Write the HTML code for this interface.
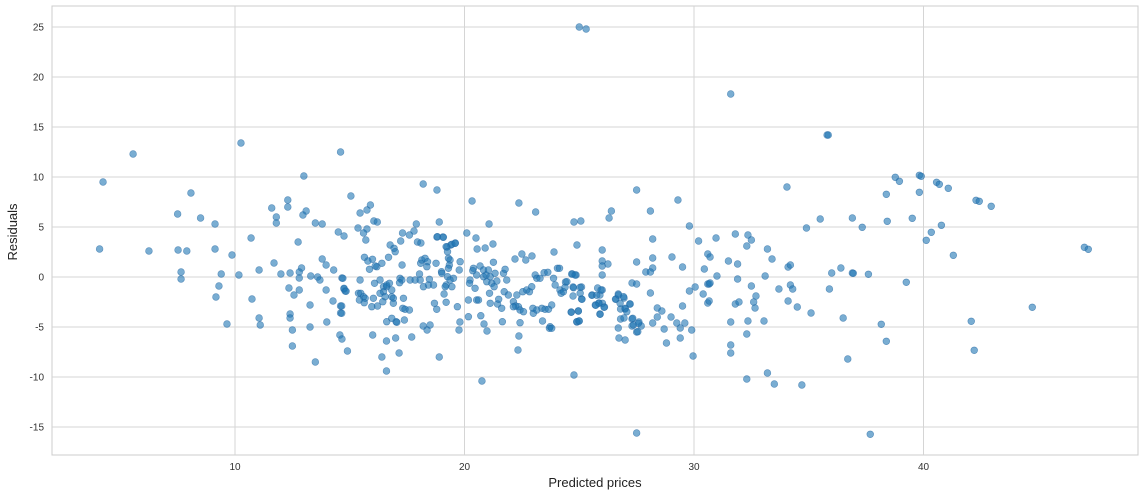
<!DOCTYPE html>
<html><head><meta charset="utf-8"><style>
html,body{margin:0;padding:0;background:#fff;}
svg{display:block;font-family:"Liberation Sans",sans-serif;}
</style></head><body>
<svg id="chart" width="1144" height="496">
<rect x="52" y="6" width="1086" height="449" fill="#fff" stroke="#cccccc" stroke-width="1"/>
<g id="grid"></g>
<g id="ticks"></g>
<g id="pts"></g>
<text x="595" y="487" text-anchor="middle" font-size="13" fill="#222">Predicted prices</text>
<text x="17" y="232" text-anchor="middle" font-size="13" fill="#222" transform="rotate(-90 17 232)">Residuals</text>
</svg>
<script>
const xTicks=[10,20,30,40];
const yTicks=[-15,-10,-5,0,5,10,15,20,25];
const predicted=[4.25,4.1,5.56,6.25,7.5,7.52,7.65,7.65,7.9,8.08,8.5,9.13,9.13,9.17,9.3,9.4,9.65,9.87,10.26,10.17,10.7,10.74,11.05,11.05,11.1,11.7,11.6,11.8,11.8,12.3,12.3,13.0,13.1,12.96,13.5,13.8,14.6,15.05,14.5,14.75,12.75,13.8,13.97,14.3,12.9,12.8,12.8,12.0,12.4,13.3,13.6,13.7,14.66,14.75,14.8,13.97,12.35,12.8,12.57,14.27,14.6,14.6,13.27,12.4,12.4,12.5,13.27,14.0,14.57,14.66,14.9,12.5,13.5,
18.2,18.8,15.45,15.75,15.9,16.05,16.2,15.36,15.75,15.6,15.7,17.9,18.9,17.3,17.8,17.6,17.95,18.1,18.8,19.06,19.6,19.4,19.24,20.1,20.5,20.33,21.07,20.55,20.9,21.24,22.37,23.1,22.5,22.2,22.67,22.94,23.9,24.77,25.07,24.9,26.3,26.4,26.0,27.5,27.5,
16.4,16.6,17.15,16.0,16.6,17.0,17.7,18.2,18.37,18.5,18.9,19.76,19.8,20.76,20.85,20.98,22.37,22.33,24.77,26.7,26.73,27.0,27.5,
29.3,28.1,29.8,28.2,26.0,26.0,26.25,26.0,28.2,28.2,27.9,28.1,29.04,29.5,34.05,30.2,30.96,30.6,30.7,30.45,31.0,31.8,32.35,32.5,32.3,31.5,31.9,33.2,33.4,33.1,34.1,34.2,34.9,35.5,36.9,36.4,36.0,36.9,35.9,36.5,36.7,34.7,33.5,32.3,33.2,31.6,31.6,32.3,31.6,32.35,33.05,35.1,34.5,34.1,32.66,32.6,32.7,32.5,31.8,31.96,31.9,34.2,34.3,33.7,30.6,30.66,30.7,29.8,30.05,30.4,30.6,30.66,29.5,29.9,29.96,29.4,29.4,29.6,29.25,29.0,28.7,28.8,28.2,28.4,28.4,28.6,28.1,27.5,27.3,27.3,27.6,27.7,26.8,26.95,27.2,27.0,26.8,26.95,26.7,26.6,27.3,25.7,25.9,26.1,25.86,25.56,25.8,26.0,25.9,24.65,24.96,24.9,25.0,24.16,24.4,24.73,25.1,24.73,25.1,24.7,24.86,
14.70,14.75,14.84,14.65,14.65,15.45,15.38,15.48,15.6,15.67,15.42,15.63,15.96,16.21,16.03,16.08,16.18,16.11,16.4,15.86,15.99,15.64,15.79,16.69,16.76,16.93,16.98,17.22,17.28,17.19,17.27,17.17,17.34,17.31,17.41,17.6,17.38,17.02,17.05,16.61,16.83,16.32,16.47,16.47,16.61,16.83,16.83,16.9,16.9,16.54,16.61,16.73,16.44,16.32,17.63,17.85,18.07,18.21,18.43,18.65,18.47,18.04,18.09,18.14,18.28,18.39,18.36,18.76,19.0,19.01,18.82,19.08,19.2,19.26,19.45,19.59,19.3,19.37,19.34,19.3,19.26,19.52,19.37,19.2,19.16,19.45,19.11,19.2,18.69,18.79,19.81,19.77,19.69,20.17,20.24,20.22,20.39,20.36,20.53,20.46,20.53,20.68,20.83,20.83,20.94,21.04,21.12,21.19,21.29,21.33,21.26,21.41,20.97,21.09,21.12,21.44,21.49,21.62,21.7,21.77,21.84,21.73,21.91,22.13,22.23,22.35,22.28,22.54,22.71,22.83,22.93,23.08,23.15,23.29,23.47,23.63,23.88,23.95,24.05,24.14,24.21,24.31,24.38,24.46,24.67,24.82,24.75,25.04,25.04,25.12,24.96,24.65,24.89,24.99,25.55,25.76,25.95,26.01,25.91,25.85,25.72,26.08,26.58,26.71,26.78,26.93,27.0,27.07,27.22,27.33,27.36,27.55,27.58,22.42,22.57,22.98,23.0,23.37,23.51,23.66,23.8,23.4,23.73,23.7,23.8,23.15,22.13,21.65,20.71,20.61,20.17,22.42,
37.33,36.94,37.6,38.38,38.42,38.77,38.95,39.51,39.82,39.9,39.82,39.25,40.57,40.69,41.08,40.78,40.34,40.12,41.3,42.29,42.43,42.95,44.74,42.08,42.21,47.01,47.18,38.16,38.38,37.68,
25.0,25.3,31.6,35.8,35.85,27.5];
const residuals=[9.5,2.8,12.3,2.6,6.3,2.7,0.5,-0.2,2.6,8.4,5.9,5.3,2.8,-2.0,-0.9,0.3,-4.7,2.2,13.4,0.2,3.9,-2.2,0.7,-4.1,-4.8,1.4,6.9,6.0,5.4,7.7,7.0,10.1,6.6,6.2,5.4,5.3,12.5,8.1,4.5,4.1,3.5,1.8,1.2,0.7,0.9,0.5,-0.1,0.3,0.4,0.1,0,-0.3,-0.1,-1.2,-1.4,-1.3,-1.1,-1.3,-1.8,-2.4,-2.9,-3.6,-2.8,-3.7,-4.1,-5.3,-5.0,-4.5,-5.8,-6.2,-7.4,-6.9,-8.5,
9.3,8.7,6.4,6.7,7.2,5.6,5.5,4.9,4.8,4.4,3.7,5.3,5.5,4.4,4.6,4.2,3.5,3.4,4.0,4.0,3.4,3.2,3.0,4.4,3.9,7.6,5.3,2.8,2.9,3.3,7.4,6.5,2.3,1.8,1.7,2.1,2.5,5.5,5.6,3.2,5.9,6.6,2.7,8.7,1.5,
-8.0,-9.4,-7.6,-5.8,-6.4,-6.1,-6.0,-4.9,-5.3,-4.8,-8.0,-5.3,-4.5,-10.4,-4.7,-5.4,-5.9,-7.3,-9.8,-5.1,-6.1,-6.3,-5.5,
7.7,6.6,5.1,3.8,1.6,1.1,1.3,0.2,1.9,0.9,0.5,0.5,2.0,1.0,9.0,3.6,3.9,2.3,2.0,0.8,0.1,4.3,4.2,3.7,3.1,1.6,1.3,2.8,1.8,0.1,1.0,1.2,4.9,5.8,5.9,0.9,0.4,0.4,-1.2,-4.1,-8.2,-10.8,-10.7,-10.2,-9.6,-7.6,-6.8,-5.7,-4.5,-4.4,-4.4,-3.6,-3.0,-2.4,-3.1,-2.5,-1.9,-0.9,-2.7,-2.5,-0.2,-0.8,-1.2,-1.2,-0.7,-0.7,-0.6,-1.4,-1.0,-1.7,-2.6,-2.4,-2.9,-5.3,-7.9,-6.1,-5.1,-4.6,-4.6,-4.0,-5.2,-6.6,-4.6,-3.1,-4.0,-3.4,-1.6,-15.6,-4.9,-4.2,-4.5,-4.9,-4.2,-4.1,-2.7,-3.2,-3.2,-2.1,-1.7,-2.2,-0.6,-2.8,-3.7,-3.0,-2.6,-1.8,-1.1,-1.3,-1.8,-3.5,-3.4,-4.5,-4.4,-1.3,-0.5,-1.0,-1.0,-1.9,-2.2,0.3,0.2,
-0.13,-1.13,-1.43,-2.9,-3.63,-0.3,-1.63,-1.63,-1.97,-2.13,-2.3,-2.57,-2.97,-2.9,-2.13,-0.63,1.03,1.1,1.37,0.77,1.77,1.97,1.6,1.97,3.2,2.87,2.53,3.6,1.2,-0.13,-0.3,-0.57,-2.13,-3.13,-3.23,-3.3,-4.3,-4.47,-4.53,-4.47,-4.13,-0.3,-0.97,-1.47,-0.97,-1.3,-1.97,-2.13,-2.63,-1.97,-0.8,-0.63,-2.47,-1.63,-0.3,-0.3,-0.3,-0.97,-0.8,-0.8,-0.23,0.3,1.37,1.7,1.87,1.53,1.03,1.37,0.53,0.37,4.03,3.97,3.03,2.53,3.27,3.37,1.87,1.7,1.2,0.87,0.03,-0.13,-0.3,-0.8,-0.97,-0.97,-1.7,-2.53,-2.63,-3.23,1.53,0.7,-2.97,-2.3,-0.3,-0.63,0.87,0.63,0.2,-1.13,-2.3,1.1,0.7,0.03,0.2,0.7,0.03,-0.63,-0.97,0.37,1.47,-0.4,-0.47,-1.63,-2.63,-2.7,-2.23,-3.13,0.37,0.77,-0.3,-1.47,-1.8,-2.47,-2.9,-2.97,-1.8,-1.47,-1.3,-1.47,-0.97,0.2,-0.13,-0.13,0.43,0.47,-0.13,-0.8,0.87,0.87,-1.63,-1.47,-1.03,-0.47,0.3,0.2,-1.07,-1.03,-1.63,-2.23,-3.4,-3.53,-4.47,-4.4,-1.83,-1.83,-1.3,-2.63,-3.73,-2.63,-2.83,-3.03,-2.23,-1.8,-2.63,-1.97,-3.13,-3.47,-2.7,-4.13,-4.8,-5.47,-4.63,-3.3,-3.47,-3.13,-3.63,-3.13,-3.23,-3.23,-2.8,-4.4,-4.97,-5.13,-5.13,-3.3,-2.97,-4.47,-3.87,-2.3,-3.97,-4.57,
4.97,0.37,0.27,8.27,5.57,9.97,9.57,5.87,10.17,10.07,8.47,-0.53,9.47,9.27,8.87,5.17,4.47,3.67,2.17,7.67,7.57,7.07,-3.03,-4.43,-7.33,2.97,2.77,-4.73,-6.43,-15.73,
25.0,24.8,18.3,14.2,14.2,-0.7];
const NS='http://www.w3.org/2000/svg';
const X0=52,X1=1138,Y0=6,Y1=455;
function sx(v){return 235+(v-10)*22.95;}
function sy(v){return 277-v*10;}
const grid=document.getElementById('grid'),ticks=document.getElementById('ticks'),pts=document.getElementById('pts');
xTicks.forEach(t=>{
 const l=document.createElementNS(NS,'line');
 l.setAttribute('x1',sx(t));l.setAttribute('x2',sx(t));l.setAttribute('y1',Y0);l.setAttribute('y2',Y1);
 l.setAttribute('stroke','#d5d5d5');l.setAttribute('stroke-width','1');
 
 
 grid.appendChild(l);
 const tx=document.createElementNS(NS,'text');
 tx.setAttribute('x',sx(t));tx.setAttribute('y',470);tx.setAttribute('text-anchor','middle');
 tx.setAttribute('font-size','10');tx.setAttribute('fill','#333');tx.textContent=t;
 
 
 ticks.appendChild(tx);
});
yTicks.forEach(t=>{
 const l=document.createElementNS(NS,'line');
 l.setAttribute('x1',X0);l.setAttribute('x2',X1);l.setAttribute('y1',sy(t));l.setAttribute('y2',sy(t));
 l.setAttribute('stroke','#d5d5d5');l.setAttribute('stroke-width','1');
 
 
 grid.appendChild(l);
 const tx=document.createElementNS(NS,'text');
 tx.setAttribute('x',44);tx.setAttribute('y',sy(t)+3.5);tx.setAttribute('text-anchor','end');
 tx.setAttribute('font-size','10');tx.setAttribute('fill','#333');tx.textContent=t;
 
 
 ticks.appendChild(tx);
});
const n=Math.min(predicted.length,residuals.length);
for(let i=0;i<n;i++){
 const c=document.createElementNS(NS,'circle');
 c.setAttribute('cx',sx(predicted[i]));c.setAttribute('cy',sy(residuals[i]));c.setAttribute('r','3.4');
 c.setAttribute('fill','rgba(31,119,180,0.6)');c.setAttribute('stroke','rgba(31,100,160,0.6)');c.setAttribute('stroke-width','0.6');
 
 
 pts.appendChild(c);
}
</script>
</body></html>
